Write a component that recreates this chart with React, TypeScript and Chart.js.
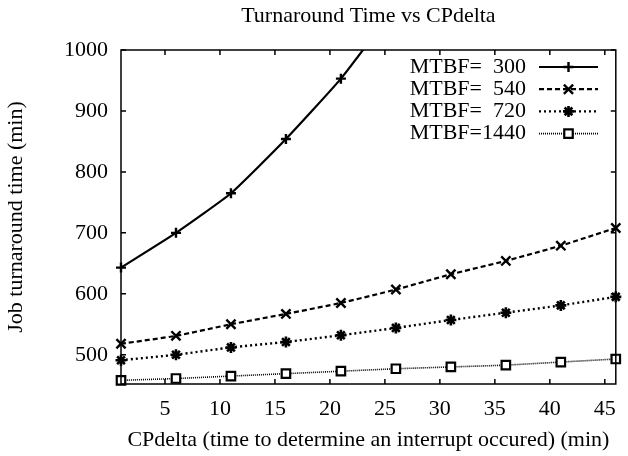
import React, { useEffect, useRef } from 'react';
import { Chart, registerables } from 'chart.js';

Chart.register(...registerables);

const TITLE = 'Turnaround Time vs CPdelta';
const X_TITLE = 'CPdelta (time to determine an interrupt occured) (min)';
const Y_TITLE = 'Job turnaround time (min)';

const cpDelta = [1, 6, 11, 16, 21, 26, 31, 36, 41, 46];
const mtbf300 = [643, 700, 765, 854, 953, 1073, 1210, 1370, 1560, 1780];
const mtbf540 = [518, 531, 550, 567, 585, 607, 632, 654, 679, 708];
const mtbf720 = [491, 500, 512, 521, 532, 544, 557, 569, 581, 595];
const mtbf1440 = [458, 461, 465, 469, 473, 477, 480, 483, 488, 493];
const seriesLabels = ['MTBF=  300', 'MTBF=  540', 'MTBF=  720', 'MTBF=1440'];

const xTicks = [5, 10, 15, 20, 25, 30, 35, 40, 45];
const yTicks = [500, 600, 700, 800, 900, 1000];
const X_MIN = 1;
const X_MAX = 46;
const Y_MIN = 452;
const Y_MAX = 1000;

const FONT = '"Liberation Serif", "Times New Roman", serif';
const FS = 22;

const styles = [
  { dash: [] as number[], width: 2.2, point: 'cross', radius: 5, pw: 2.4 },
  { dash: [5, 3], width: 2.2, point: 'crossRot', radius: 6.5, pw: 2.4 },
  { dash: [2, 3], width: 2.4, point: 'star', radius: 5.5, pw: 2.6 },
  { dash: [1, 1], width: 1.6, point: 'rect', radius: 6, pw: 2.2 },
];

function drawMarker(ctx: CanvasRenderingContext2D, kind: string, x: number, y: number, r: number) {
  ctx.beginPath();
  if (kind === 'cross' || kind === 'star') {
    ctx.moveTo(x - r, y); ctx.lineTo(x + r, y);
    ctx.moveTo(x, y - r); ctx.lineTo(x, y + r);
  }
  if (kind === 'crossRot' || kind === 'star') {
    const d = r * Math.SQRT1_2;
    ctx.moveTo(x - d, y - d); ctx.lineTo(x + d, y + d);
    ctx.moveTo(x - d, y + d); ctx.lineTo(x + d, y - d);
  }
  if (kind === 'rect') {
    const s = r * Math.SQRT1_2;
    ctx.fillStyle = '#fff';
    ctx.fillRect(x - s, y - s, 2 * s, 2 * s);
    ctx.rect(x - s, y - s, 2 * s, 2 * s);
  }
  ctx.stroke();
}

const framePlugin = {
  id: 'gnuplotFrame',
  afterDraw(chart: any) {
    const ctx: CanvasRenderingContext2D = chart.ctx;
    const { left, right, top, bottom } = chart.chartArea;
    const xs = chart.scales.x;
    const ys = chart.scales.y;
    ctx.save();
    ctx.strokeStyle = '#000';
    ctx.lineWidth = 1.5;
    ctx.setLineDash([]);
    ctx.strokeRect(left, top, right - left, bottom - top);
    const tl = 5;
    ctx.beginPath();
    xTicks.forEach((v) => {
      const px = xs.getPixelForValue(v);
      ctx.moveTo(px, bottom); ctx.lineTo(px, bottom - tl);
      ctx.moveTo(px, top); ctx.lineTo(px, top + tl);
    });
    yTicks.forEach((v) => {
      const py = ys.getPixelForValue(v);
      ctx.moveTo(left, py); ctx.lineTo(left + tl, py);
      ctx.moveTo(right, py); ctx.lineTo(right - tl, py);
    });
    ctx.stroke();

    // title
    ctx.fillStyle = '#000';
    ctx.font = `${FS}px ${FONT}`;
    ctx.textAlign = 'center';
    ctx.textBaseline = 'middle';
    ctx.fillText(TITLE, (left + right) / 2, 16);

    // legend (gnuplot style, top right inside the plot)
    const textRight = 526;
    const lineX0 = 539;
    const lineX1 = 598;
    const rowY0 = 67;
    const rowH = 22.2;
    const numW = ctx.measureText('0000').width;
    seriesLabels.forEach((lab, i) => {
      const y = rowY0 + i * rowH;
      const [pre, num] = lab.split('=');
      ctx.fillStyle = '#000';
      ctx.textAlign = 'right';
      ctx.textBaseline = 'middle';
      ctx.fillText(pre + '=', textRight - numW, y);
      ctx.fillText(num.trim(), textRight, y);
      const st = styles[i];
      ctx.lineWidth = st.width;
      ctx.setLineDash(st.dash);
      ctx.beginPath();
      ctx.moveTo(lineX0, y); ctx.lineTo(lineX1, y);
      ctx.stroke();
      ctx.setLineDash([]);
      ctx.lineWidth = st.pw;
      drawMarker(ctx, st.point, (lineX0 + lineX1) / 2, y, st.radius);
    });
    ctx.restore();
  },
};

export default function App() {
  const ref = useRef<HTMLCanvasElement | null>(null);
  useEffect(() => {
    if (!ref.current) return;
    const seriesData = [mtbf300, mtbf540, mtbf720, mtbf1440];
    const chart = new Chart(ref.current, {
      type: 'line',
      data: {
        datasets: seriesData.map((vals, i) => ({
          label: seriesLabels[i],
          data: cpDelta.map((x, j) => ({ x, y: vals[j] })),
          borderColor: '#000',
          backgroundColor: '#fff',
          borderWidth: styles[i].width,
          borderDash: styles[i].dash,
          pointStyle: styles[i].point as any,
          pointRadius: styles[i].radius,
          pointBorderWidth: styles[i].pw,
          pointBorderColor: '#000',
          pointBackgroundColor: '#fff',
          tension: 0.15,
          fill: false,
          clip: { left: 10, right: 10, top: 0, bottom: 10 } as any,
        })),
      },
      options: {
        responsive: false,
        animation: false,
        devicePixelRatio: 1,
        layout: { padding: { top: 50, right: 2, left: 0, bottom: 0 } },
        plugins: {
          legend: { display: false },
          title: { display: false },
          tooltip: { enabled: false },
        },
        scales: {
          x: {
            type: 'linear',
            min: X_MIN,
            max: X_MAX,
            grid: { display: false, drawTicks: false },
            border: { display: false },
            afterBuildTicks: (s: any) => { s.ticks = xTicks.map((v) => ({ value: v })); },
            afterFit: (s: any) => { s.height = 72; },
            ticks: {
              color: '#000',
              font: { family: FONT, size: FS },
              padding: 12,
              maxRotation: 0,
              autoSkip: false,
              callback: (v: any) => String(v),
            },
            title: {
              display: true,
              text: X_TITLE,
              color: '#000',
              font: { family: FONT, size: FS },
              padding: { top: 3, bottom: 3 },
            },
          },
          y: {
            type: 'linear',
            min: Y_MIN,
            max: Y_MAX,
            grid: { display: false, drawTicks: false },
            border: { display: false },
            afterBuildTicks: (s: any) => { s.ticks = yTicks.map((v) => ({ value: v })); },
            afterFit: (s: any) => { s.width = 121; },
            ticks: {
              color: '#000',
              font: { family: FONT, size: FS },
              padding: 13,
              autoSkip: false,
              callback: (v: any) => String(v),
            },
            title: {
              display: true,
              text: Y_TITLE,
              color: '#000',
              font: { family: FONT, size: FS },
              padding: { top: 3, bottom: 3 },
            },
          },
        },
      },
      plugins: [framePlugin],
    });
    return () => chart.destroy();
  }, []);
  return (
    <div style={{ position: 'fixed', left: 0, top: 0, width: 628, height: 456, background: '#fff' }}>
      <canvas ref={ref} width={628} height={456} />
    </div>
  );
}
